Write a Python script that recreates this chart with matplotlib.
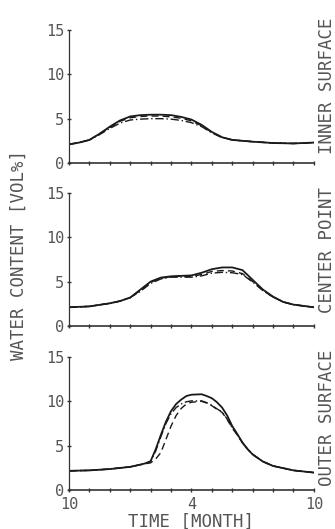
import numpy as np
import matplotlib
matplotlib.use("Agg")
import matplotlib.pyplot as plt

plt.rcParams['font.family'] = ['DejaVu Sans Mono', 'DejaVu Sans']

# inner surface
x_in = [0, 0.5, 1, 1.5, 2, 2.5, 3, 3.5, 4, 4.5, 5, 5.5, 6, 6.5, 7, 7.5, 8, 9, 10, 11, 12]
in_solid = [2.1, 2.3, 2.6, 3.3, 4.1, 4.8, 5.25, 5.4, 5.45, 5.45, 5.4, 5.2, 4.9, 4.3, 3.5, 2.9, 2.6, 2.4, 2.25, 2.2, 2.3]
in_dash = [2.1, 2.3, 2.6, 3.3, 4.0, 4.7, 5.1, 5.25, 5.3, 5.3, 5.2, 5.05, 4.75, 4.2, 3.45, 2.9, 2.6, 2.4, 2.25, 2.2, 2.3]
in_dashdot = [2.1, 2.3, 2.6, 3.2, 3.9, 4.5, 4.85, 4.95, 5.0, 5.0, 4.95, 4.8, 4.55, 4.1, 3.4, 2.85, 2.6, 2.4, 2.25, 2.2, 2.3]

# center point
x_cen = [0, 1, 2, 2.5, 3, 3.5, 4, 4.5, 5, 5.5, 6, 6.5, 7, 7.5, 8, 8.5, 9, 9.5, 10, 10.5, 11, 12]
cen_solid = [2.1, 2.2, 2.55, 2.8, 3.2, 4.1, 5.0, 5.45, 5.6, 5.65, 5.7, 6.0, 6.4, 6.6, 6.6, 6.3, 5.2, 4.1, 3.3, 2.7, 2.4, 2.1]
cen_dash = [2.1, 2.2, 2.55, 2.8, 3.2, 4.0, 4.9, 5.4, 5.55, 5.6, 5.6, 5.8, 6.15, 6.25, 6.2, 5.9, 5.0, 4.0, 3.25, 2.7, 2.4, 2.1]
cen_dashdot = [2.1, 2.2, 2.55, 2.8, 3.2, 3.9, 4.8, 5.3, 5.5, 5.5, 5.5, 5.65, 5.95, 6.05, 6.0, 5.8, 4.95, 4.0, 3.25, 2.7, 2.4, 2.1]

# outer surface
x_out = [0, 1, 2, 3, 3.5, 3.75, 4, 4.25, 4.5, 4.75, 5, 5.25, 5.5, 5.75, 6, 6.5, 6.75, 7, 7.25, 7.5,
         7.75, 8, 8.25, 8.5, 8.75, 9, 9.5, 10, 11, 12]
out_solid = [2.15, 2.2, 2.35, 2.6, 2.85, 3.0, 3.25, 4.6, 6.2, 7.7, 8.9, 9.7, 10.2, 10.6, 10.75, 10.8, 10.6, 10.35, 9.9, 9.3,
             8.4, 7.2, 6.3, 5.35, 4.6, 4.0, 3.2, 2.7, 2.2, 1.95]
out_dashdot = [2.15, 2.2, 2.35, 2.6, 2.85, 3.0, 3.2, 4.4, 6.0, 7.5, 8.6, 9.3, 9.7, 9.95, 10.05, 10.05, 9.85, 9.55, 9.15, 8.8,
               8.0, 7.0, 6.2, 5.3, 4.6, 4.0, 3.2, 2.7, 2.2, 1.95]
out_dash = [2.15, 2.2, 2.35, 2.6, 2.85, 2.95, 3.05, 3.5, 4.2, 5.7, 7.2, 8.4, 9.2, 9.7, 9.9, 10.0, 9.8, 9.5, 9.1, 8.75,
            7.95, 7.0, 6.2, 5.3, 4.6, 4.0, 3.2, 2.7, 2.2, 1.95]

panels = [
    ("INNER SURFACE", x_in, in_solid, in_dash, in_dashdot),
    ("CENTER POINT", x_cen, cen_solid, cen_dash, cen_dashdot),
    ("OUTER SURFACE", x_out, out_solid, out_dash, out_dashdot),
]
bottoms = [0.692, 0.384, 0.074]
label_y = [0.838, 0.527, 0.21]

line_col = '#1a1a1a'
text_col = '#555555'

fig = plt.figure(figsize=(3.35, 5.29), dpi=100)

for i, (name, x, s, d, dd) in enumerate(panels):
    ax = fig.add_axes([0.206, bottoms[i], 0.731, 0.251])
    ax.plot(x, s, '-', color=line_col, lw=1.3)
    ax.plot(x, d, '--', color=line_col, lw=1.0, dashes=(5, 3))
    ax.plot(x, dd, '-.', color=line_col, lw=1.0, dashes=(6, 2, 1, 2))
    ax.set_xlim(0, 12)
    ax.set_ylim(0, 15)
    for sp in ['top', 'right']:
        ax.spines[sp].set_visible(False)
    ax.spines['left'].set_color('#333333')
    ax.spines['bottom'].set_color('#333333')
    ax.spines['left'].set_linewidth(0.9)
    ax.spines['bottom'].set_linewidth(1.2)
    ax.set_yticks([0, 5, 10, 15])
    ax.set_yticklabels(['0', '5', '10', '15'])
    ax.set_xticks(np.arange(13))
    ax.tick_params(axis='both', direction='inout', length=3, width=1.0,
                   colors='#333333', labelcolor=text_col, labelsize=11, pad=2)
    if i == 2:
        ax.set_xticklabels(['10', '', '', '', '', '', '4', '', '', '', '', '', '10'])
        ax.tick_params(axis='x', pad=4)
        ax.set_xlabel('TIME [MONTH]', fontsize=12.5, color=text_col, labelpad=0)
    else:
        ax.set_xticklabels([])
    fig.text(0.976, label_y[i], name, rotation=90, ha='center', va='center',
             fontsize=12.5, color=text_col)

fig.text(0.057, 0.518, 'WATER CONTENT [VOL%]', rotation=90, ha='center', va='center',
         fontsize=12.5, color=text_col)

fig.savefig('out.png', dpi=100)
